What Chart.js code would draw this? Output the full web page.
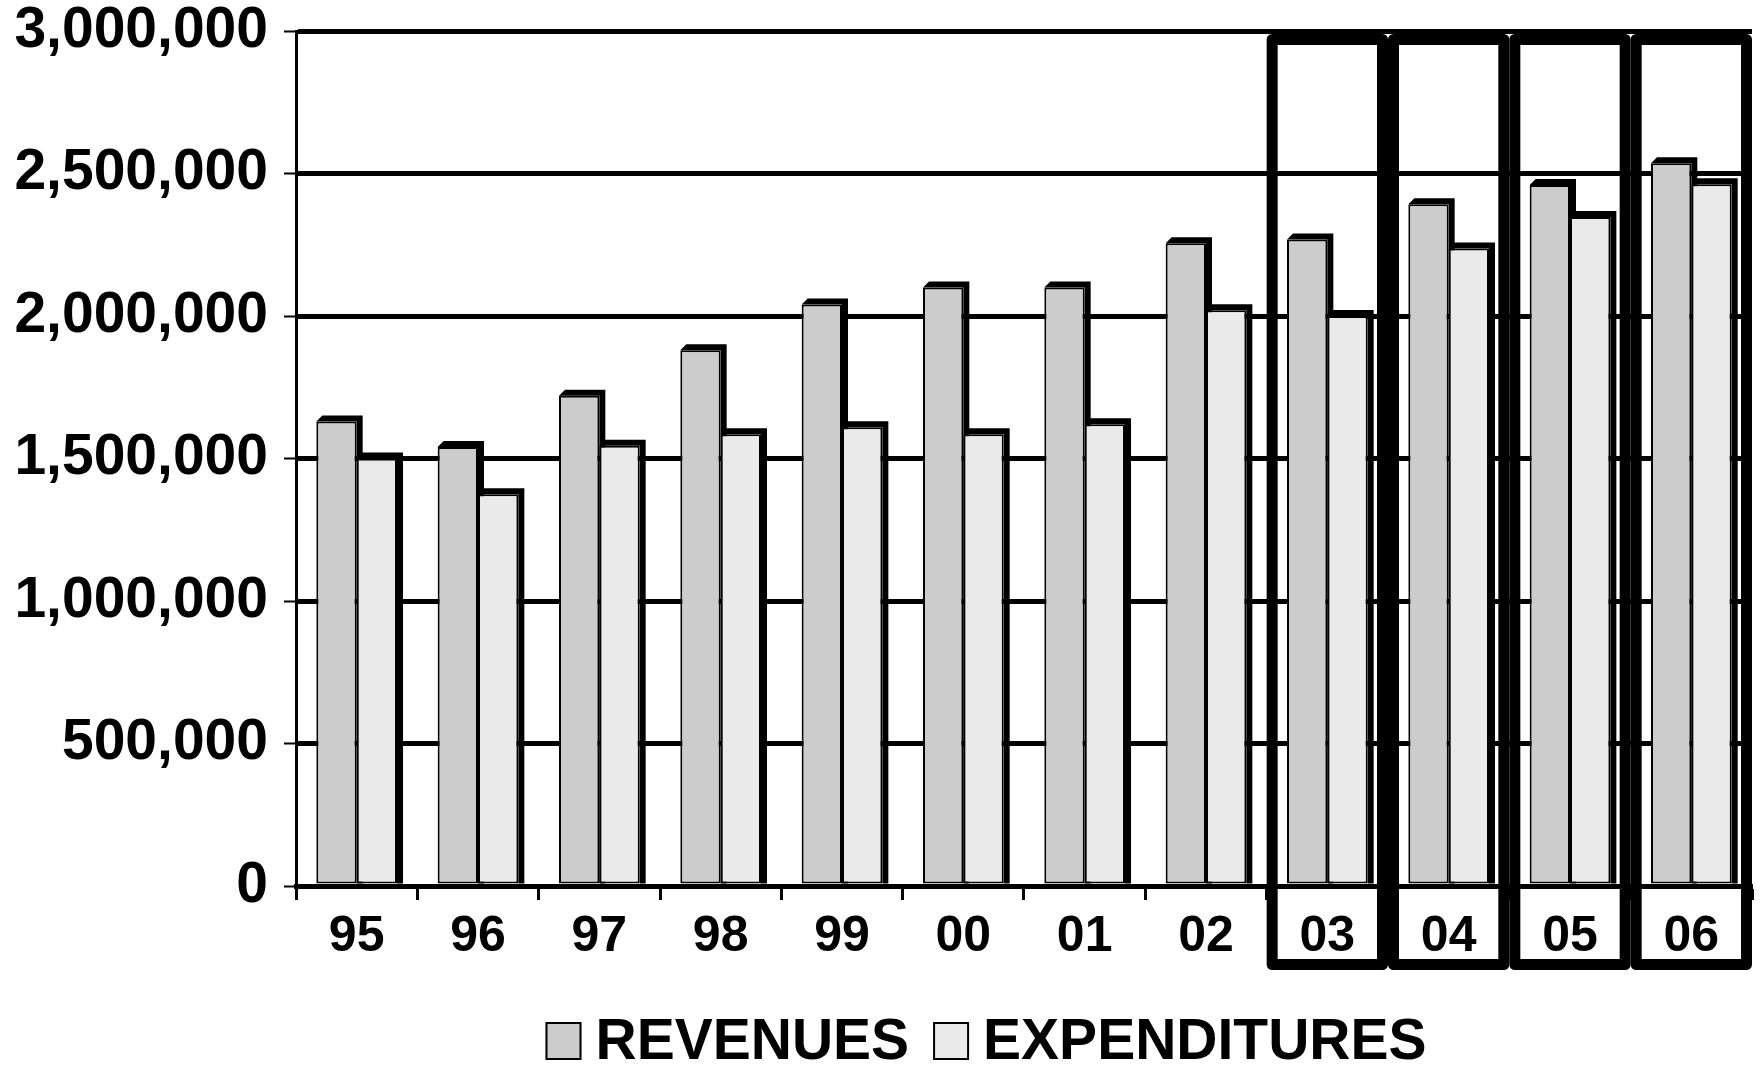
<!DOCTYPE html>
<html><head><meta charset="utf-8">
<script src="https://cdn.jsdelivr.net/npm/chart.js@4.4.1/dist/chart.umd.min.js"></script>
<style>html,body{margin:0;padding:0;background:#fff;}canvas{display:block;}</style>
</head><body>
<canvas id="c" width="1762" height="1065"></canvas>
<script>
const categories = ['95','96','97','98','99','00','01','02','03','04','05','06'];
const revenues = [1630000,1540000,1720000,1880000,2040000,2100000,2100000,2255000,2268000,2392000,2460000,2536000];
const expenditures = [1500000,1375000,1545000,1585000,1610000,1585000,1620000,2020000,2000000,2237000,2347000,2462000];
const yTicks = [0,500000,1000000,1500000,2000000,2500000,3000000];
const highlighted = ['03','04','05','06'];
const seriesNames = ['REVENUES','EXPENDITURES'];
const seriesColors = ['#cccccc','#eaeaea'];

const FONT = '"Liberation Sans", Arial, Helvetica, sans-serif';

const barShadow = {
  id: 'barShadow',
  beforeDatasetsDraw(chart) {
    const ctx = chart.ctx;
    const d = 6;
    ctx.save();
    ctx.fillStyle = '#000';
    chart.data.datasets.forEach((ds, i) => {
      const meta = chart.getDatasetMeta(i);
      meta.data.forEach(el => {
        const p = el.getProps(['x','y','base','width'], true);
        const l = p.x - p.width/2, r = p.x + p.width/2, t = p.y, b = p.base;
        ctx.beginPath();
        ctx.moveTo(l, t);
        ctx.lineTo(l + d, t - d);
        ctx.lineTo(r + d, t - d);
        ctx.lineTo(r + d, b);
        ctx.lineTo(r, b);
        ctx.lineTo(r, t);
        ctx.closePath();
        ctx.fill();
      });
    });
    ctx.restore();
  }
};

const highlightBoxes = {
  id: 'highlightBoxes',
  afterDraw(chart) {
    const ctx = chart.ctx, xs = chart.scales.x, ys = chart.scales.y;
    const half = (xs.getPixelForValue(1) - xs.getPixelForValue(0)) / 2;
    const lw = 11;
    const top = ys.getPixelForValue(yTicks[yTicks.length-1]) + 3;
    const bottom = chart.chartArea.bottom + 84;
    ctx.save();
    ctx.strokeStyle = '#000';
    ctx.lineWidth = lw;
    ctx.lineJoin = 'round';
    highlighted.forEach(cat => {
      const idx = categories.indexOf(cat);
      const cx = xs.getPixelForValue(idx);
      const l = cx - half, r = cx + half;
      ctx.strokeRect(l + lw/2, top + lw/2, r - l - lw, bottom - top - lw);
    });
    ctx.restore();
  }
};

const customLegend = {
  id: 'customLegend',
  afterDraw(chart) {
    const ctx = chart.ctx;
    const ca = chart.chartArea;
    ctx.save();
    ctx.font = 'bold 57px ' + FONT;
    ctx.textBaseline = 'middle';
    ctx.textAlign = 'left';
    const boxW = 36, boxH = 38, gap = 14, itemGap = 24;
    const widths = seriesNames.map(n => ctx.measureText(n).width);
    let total = 0;
    widths.forEach((w, i) => { total += boxW + gap + w + (i < widths.length-1 ? itemGap : 0); });
    let x = (ca.left + ca.right) / 2 - 38 - total / 2;
    const cy = 1041;
    chart.data.datasets.forEach((ds, i) => {
      ctx.fillStyle = ds.backgroundColor;
      ctx.fillRect(x, cy - boxH/2, boxW, boxH);
      ctx.strokeStyle = '#000';
      ctx.lineWidth = 2;
      ctx.strokeRect(x + 1, cy - boxH/2 + 1, boxW - 2, boxH - 2);
      ctx.fillStyle = '#000';
      ctx.fillText(ds.label, x + boxW + gap, cy + 2);
      x += boxW + gap + widths[i] + itemGap;
    });
    ctx.restore();
  }
};

new Chart(document.getElementById('c'), {
  type: 'bar',
  data: {
    labels: categories,
    datasets: [
      { label: seriesNames[0], data: revenues, backgroundColor: seriesColors[0], borderColor: '#000', borderWidth: 2, borderSkipped: false },
      { label: seriesNames[1], data: expenditures, backgroundColor: seriesColors[1], borderColor: '#000', borderWidth: 2, borderSkipped: false }
    ]
  },
  options: {
    responsive: false,
    animation: false,
    devicePixelRatio: 1,
    layout: { padding: { top: 31, right: 10, bottom: 100, left: 0 } },
    datasets: { bar: { categoryPercentage: 0.665, barPercentage: 1.0 } },
    plugins: { legend: { display: false }, tooltip: { enabled: false } },
    scales: {
      x: {
        grid: { display: true, drawOnChartArea: false, drawTicks: true, tickLength: 14, tickWidth: 3, tickColor: '#000', offset: true },
        border: { display: true, color: '#000', width: 5 },
        ticks: { color: '#000', font: { family: FONT, size: 50, weight: 'bold', lineHeight: 1 }, padding: 12, maxRotation: 0, autoSkip: false },
        afterFit(s) { s.height = 79; }
      },
      y: {
        min: 0, max: 3000000,
        afterBuildTicks(s) { s.ticks = yTicks.map(v => ({ value: v })); },
        grid: { color: '#000', lineWidth: 5, drawTicks: true, tickLength: 12, tickWidth: 2, tickColor: '#000' },
        border: { display: true, color: '#000', width: 3 },
        ticks: { color: '#000', font: { family: FONT, size: 57, weight: 'bold', lineHeight: 0.5 }, padding: 16,
          callback: v => Number(v).toLocaleString('en-US') },
        afterFit(s) { s.width = 296; }
      }
    }
  },
  plugins: [barShadow, highlightBoxes, customLegend]
});
</script>
</body></html>
